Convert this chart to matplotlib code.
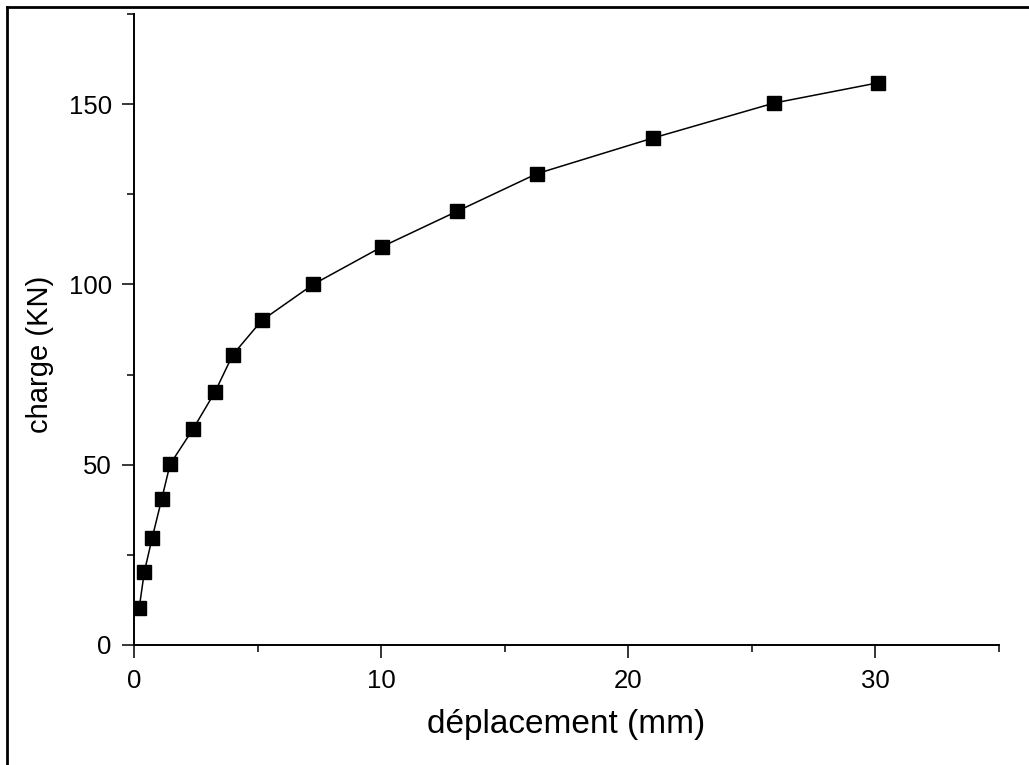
import numpy as np
import matplotlib
matplotlib.use("Agg")
import matplotlib.pyplot as plt
from matplotlib.ticker import MultipleLocator
from matplotlib.lines import Line2D

# load / displacement curve
deplacement = [0.21, 0.42, 0.74, 1.12, 1.46, 2.40, 3.28, 4.0, 5.17, 7.25,
               10.05, 13.08, 16.3, 21.0, 25.9, 30.1]
charge = [10.2, 20.3, 29.8, 40.4, 50.1, 60.0, 70.2, 80.5, 90.0, 100.0,
          110.5, 120.3, 130.7, 140.6, 150.3, 155.9]

plt.rcParams['font.family'] = ['Liberation Sans', 'DejaVu Sans']

fig = plt.figure(figsize=(10.29, 7.65), dpi=100)
ax = fig.add_axes([0.1302, 0.1569, 0.8406, 0.8248])

ax.plot(deplacement, charge, color="black", linewidth=1.1,
        marker="s", markersize=9.5, markerfacecolor="black",
        markeredgecolor="black")

ax.set_xlim(0, 35)
ax.set_ylim(0, 175)
ax.xaxis.set_major_locator(MultipleLocator(10))
ax.xaxis.set_minor_locator(MultipleLocator(5))
ax.yaxis.set_major_locator(MultipleLocator(50))
ax.yaxis.set_minor_locator(MultipleLocator(25))

for side in ["top", "right"]:
    ax.spines[side].set_visible(False)
for side in ["left", "bottom"]:
    ax.spines[side].set_linewidth(1.4)

ax.tick_params(which="major", direction="out", length=9, width=1.1,
               labelsize=18.5, pad=7)
ax.tick_params(which="minor", direction="out", length=5, width=1.1)
ax.tick_params(axis="x", which="major", pad=8)

ax.set_xlabel("déplacement (mm)", fontsize=24, labelpad=12)
ax.set_ylabel("charge (KN)", fontsize=21)
ax.yaxis.set_label_coords(-0.093, 0.46)

# outer frame lines (top and left only)
fig.add_artist(Line2D([0.0068, 0.0068], [0, 0.9908], transform=fig.transFigure,
                      color="black", linewidth=2))
fig.add_artist(Line2D([0.0068, 1], [0.9908, 0.9908], transform=fig.transFigure,
                      color="black", linewidth=2))

fig.savefig("out.png", dpi=100)
